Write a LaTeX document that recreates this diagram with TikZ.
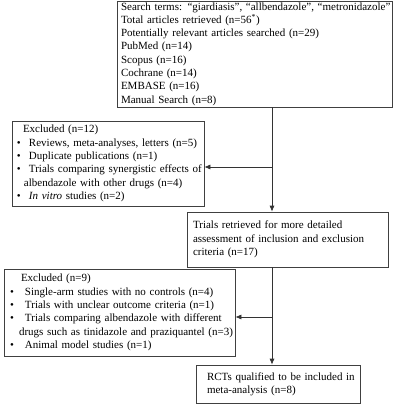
\documentclass[tikz,border=0pt]{standalone}
\usepackage{fontspec}
\setmainfont{Liberation Serif}
\usepackage{tikz}
\usetikzlibrary{arrows.meta}
\usepackage{xcolor}

\tikzset{
  box/.style={draw=black!75, line width=0.7pt, align=left, anchor=center,
    font=\fontsize{11}{13.3}\selectfont, inner ysep=0pt},
  flow/.style={draw=black!80, line width=0.7pt},
  arr/.style={flow, -{Latex[length=6pt,width=5pt]}}
}
\newcommand{\bul}[1]{\makebox[#1][l]{\textbullet}}

\begin{document}
\begin{tikzpicture}[x=1pt, y=-1pt]
\useasboundingbox (0,0) rectangle (403,409);
% Study selection flow chart
\node[box, minimum width=275pt, minimum height=106pt, inner xsep=4pt, text width=267pt] (search) at (254.5,54)
  {\mbox{Search terms: “giardiasis”, “allbendazole”, “metronidazole”}\\
   Total articles retrieved (n=56\textsuperscript{*})\\
   \mbox{Potentially relevant articles searched (n=29)}\\
   PubMed (n=14)\\
   Scopus (n=16)\\
   Cochrane (n=14)\\
   EMBASE (n=16)\\
   Manual Search (n=8)};
\node[box, minimum width=192pt, minimum height=85pt, inner xsep=4pt, text width=184pt] (excl1) at (108,163.5)
  {\hspace*{7pt}Excluded (n=12)\\
   \mbox{\hspace*{1pt}\bul{12pt}Reviews, meta-analyses, letters (n=5)}\\
   \mbox{\hspace*{1pt}\bul{12pt}Duplicate publications (n=1)}\\
   \mbox{\hspace*{1pt}\bul{12pt}Trials comparing synergistic effects of}\\
   \mbox{\hspace*{8pt}albendazole with other drugs (n=4)}\\
   \mbox{\hspace*{1pt}\bul{12pt}\textit{In vitro} studies (n=2)}};
\node[box, minimum width=201pt, minimum height=55pt, inner xsep=6pt, text width=189pt] (trials) at (287.5,239.5)
  {\mbox{Trials retrieved for more detailed}\\
   \mbox{assessment of inclusion and exclusion}\\
   criteria (n=17)};
\node[box, minimum width=231pt, minimum height=87pt, inner xsep=6pt, text width=219pt] (excl2) at (119.5,312.5)
  {\hspace*{11pt}Excluded (n=9)\\
   \mbox{\bul{15pt}Single-arm studies with no controls (n=4)}\\
   \mbox{\bul{15pt}Trials with unclear outcome criteria (n=1)}\\
   \mbox{\bul{15pt}Trials comparing albendazole with different}\\
   \mbox{\hspace*{9pt}drugs such as tinidazole and praziquantel (n=3)}\\
   \mbox{\bul{15pt}Animal model studies (n=1)}};
\node[box, minimum width=164pt, minimum height=38pt, inner xsep=11pt, text width=142pt] (rct) at (278,384)
  {\mbox{RCTs qualified to be included in}\\
   meta-analysis (n=8)};

\coordinate (trunk) at (272,0);
\draw[arr] (search.south -| trunk) -- (trials.north -| trunk);
\draw[arr] (trials.south -| trunk) -- (rct.north -| trunk);
\draw[arr] ([yshift=-3.5pt]excl1.east -| trunk) -- ([yshift=-3.5pt]excl1.east);
\draw[arr] ([yshift=-4.5pt]excl2.east -| trunk) -- ([yshift=-4.5pt]excl2.east);
\end{tikzpicture}
\end{document}
